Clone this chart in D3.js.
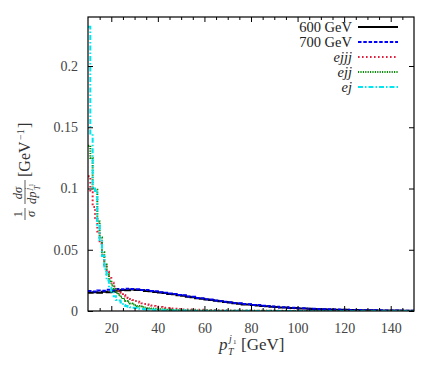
<!DOCTYPE html>
<html lang="en">
<head>
<meta charset="UTF-8">
<title>pT j1</title>
<script src="https://cdnjs.cloudflare.com/ajax/libs/d3/7.8.4/d3.min.js"></script>
<style>
  body { margin: 0; background: #fff; }
  text { font-family: "Liberation Serif", "DejaVu Serif", serif; }
</style>
</head>
<body>
<div class="visHolder"></div>
<script>
// bin edges (GeV)
const sigStart = 10, sigWidth = 2;
const bkgFineStart = 10, bkgFineWidth = 1;
const bkgCoarseStart = 50, bkgCoarseWidth = 5;

// 600 GeV, 2 GeV bins from 10
const sig600 = [
  0.0148, 0.0153, 0.0150, 0.0158, 0.0153, 0.0157, 0.0166, 0.0172, 0.0170, 0.0176,
  0.0171, 0.0172, 0.0164, 0.0161, 0.0155, 0.0151, 0.0147, 0.0139, 0.0137, 0.0129,
  0.0125, 0.0116, 0.0113, 0.0105, 0.0101, 0.0094, 0.0090, 0.0083, 0.0079, 0.0073,
  0.0069, 0.0063, 0.0060, 0.0054, 0.0053, 0.0048, 0.0045, 0.0040, 0.0039, 0.0034,
  0.0033, 0.0029, 0.0028, 0.0025, 0.0024, 0.0021, 0.0020, 0.0018, 0.0017, 0.0015,
  0.0014, 0.0013, 0.0012, 0.0011, 0.0010, 0.0010, 0.0008, 0.0008, 0.0007, 0.0007,
  0.0006, 0.0006, 0.0005, 0.0005, 0.0004, 0.0004, 0.0004, 0.0003, 0.0003, 0.0003
];
// 700 GeV, 2 GeV bins from 10
const sig700 = [
  0.0163, 0.0160, 0.0168, 0.0166, 0.0173, 0.0170, 0.0179, 0.0177, 0.0182, 0.0179,
  0.0178, 0.0172, 0.0171, 0.0164, 0.0161, 0.0154, 0.0150, 0.0143, 0.0139, 0.0131,
  0.0128, 0.0119, 0.0116, 0.0107, 0.0104, 0.0096, 0.0093, 0.0085, 0.0082, 0.0075,
  0.0072, 0.0065, 0.0063, 0.0057, 0.0055, 0.0049, 0.0048, 0.0042, 0.0041, 0.0036,
  0.0035, 0.0031, 0.0030, 0.0026, 0.0026, 0.0022, 0.0022, 0.0019, 0.0018, 0.0016,
  0.0015, 0.0014, 0.0013, 0.0012, 0.0011, 0.0010, 0.0009, 0.0009, 0.0008, 0.0007,
  0.0007, 0.0006, 0.0006, 0.0005, 0.0005, 0.0004, 0.0004, 0.0004, 0.0003, 0.0003
];

// backgrounds: 1 GeV bins 10-50, then 5 GeV bins 50-150
const ejjjFine = [
  0.110, 0.097, 0.085, 0.075, 0.065, 0.055, 0.046, 0.038, 0.032, 0.027,
  0.023, 0.020, 0.018, 0.016, 0.0145, 0.013, 0.0118, 0.0107, 0.0097, 0.0089,
  0.0081, 0.0075, 0.0069, 0.0063, 0.0058, 0.0053, 0.0049, 0.0045, 0.0041, 0.0038,
  0.0035, 0.0032, 0.0030, 0.0027, 0.0025, 0.0023, 0.0021, 0.0019, 0.0018, 0.0016
];
const ejjjCoarse = [
  0.0013, 0.0010, 0.0008, 0.0006, 0.0005, 0.0004, 0.0003, 0.0003, 0.0002, 0.0002,
  0.0002, 0.0001, 0.0001, 0.0001, 0.0001, 0.0001, 0.0001, 0.0001, 0.0001, 0.0001
];
const ejjFine = [
  0.135, 0.125, 0.100, 0.099, 0.073, 0.060, 0.048, 0.038, 0.030, 0.025,
  0.021, 0.018, 0.015, 0.013, 0.011, 0.0095, 0.0082, 0.0071, 0.0062, 0.0054,
  0.0047, 0.0041, 0.0036, 0.0032, 0.0028, 0.0025, 0.0022, 0.0020, 0.0018, 0.0016,
  0.0014, 0.0013, 0.0012, 0.0011, 0.0010, 0.0009, 0.0008, 0.0008, 0.0007, 0.0007
];
const ejjCoarse = [
  0.0006, 0.0005, 0.0004, 0.0003, 0.0003, 0.0002, 0.0002, 0.0002, 0.0001, 0.0001,
  0.0001, 0.0001, 0.0001, 0.0001, 0.0001, 0.0001, 0.0001, 0.0001, 0.0001, 0.0001
];
const ejFine = [
  0.232, 0.145, 0.100, 0.098, 0.070, 0.058, 0.045, 0.034, 0.025, 0.019,
  0.016, 0.012, 0.009, 0.0085, 0.007, 0.005, 0.004, 0.0035, 0.003, 0.0027,
  0.0024, 0.0021, 0.0019, 0.0017, 0.0015, 0.0013, 0.0012, 0.0011, 0.0010, 0.0009,
  0.0008, 0.0008, 0.0007, 0.0007, 0.0006, 0.0006, 0.0005, 0.0005, 0.0005, 0.0004
];
const ejCoarse = [
  0.0004, 0.0003, 0.0003, 0.0002, 0.0002, 0.0002, 0.0001, 0.0001, 0.0001, 0.0001,
  0.0001, 0.0001, 0.0001, 0.0001, 0.0001, 0.0001, 0.0001, 0.0001, 0.0001, 0.0001
];

const legendLabels = ["600 GeV", "700 GeV", "ejjj", "ejj", "ej"];
const xTicks = [20, 40, 60, 80, 100, 120, 140];
const yTicks = [0, 0.05, 0.1, 0.15, 0.2];

const w = 440, h = 367;
const padL = 88, padR = 414, padT = 17, padB = 311;

const xScale = d3.scaleLinear().domain([10, 150]).range([padL, padR]);
const yScale = d3.scaleLinear().domain([0, 0.24]).range([padB, padT]);

const svg = d3.select(".visHolder").append("svg")
  .attr("width", w).attr("height", h);

svg.append("defs").append("clipPath").attr("id", "clip")
  .append("rect").attr("x", padL).attr("y", padT)
  .attr("width", padR - padL).attr("height", padB - padT);

// turn bins into step points
function steps(start, width, vals) {
  const pts = vals.map((v, i) => [start + i * width, v]);
  pts.push([start + vals.length * width, vals[vals.length - 1]]);
  return pts;
}
function bkg(fine, coarse) {
  const a = steps(bkgFineStart, bkgFineWidth, fine);
  a.pop();
  return a.concat(steps(bkgCoarseStart, bkgCoarseWidth, coarse));
}

const series = [
  { pts: steps(sigStart, sigWidth, sig600), color: "#000000", dash: null },
  { pts: steps(sigStart, sigWidth, sig700), color: "#0000ff", dash: "3.5,1.8" },
  { pts: bkg(ejjjFine, ejjjCoarse), color: "#e0203c", dash: "1.6,2.4" },
  { pts: bkg(ejjFine, ejjCoarse), color: "#0a8a0a", dash: "1.2,1.2" },
  { pts: bkg(ejFine, ejCoarse), color: "#00e5f0", dash: "5,2,1.5,2" }
];

const line = d3.line()
  .x(d => xScale(d[0]))
  .y(d => yScale(d[1]))
  .curve(d3.curveStepAfter);

const plot = svg.append("g").attr("clip-path", "url(#clip)");
series.forEach(s => {
  plot.append("path")
    .attr("d", line(s.pts))
    .attr("fill", "none")
    .attr("stroke", s.color)
    .attr("stroke-width", 2)
    .attr("stroke-dasharray", s.dash);
});

// axes: ticks inside on all four sides
const minorX = d3.range(15, 150, 5).filter(v => v % 20 !== 0);
const fmt = d3.format("~g");

svg.append("g").attr("transform", `translate(0,${padB})`)
  .call(d3.axisBottom(xScale).tickValues(xTicks).tickSizeInner(-5).tickSizeOuter(0).tickPadding(12));
svg.append("g").attr("transform", `translate(0,${padB})`)
  .call(d3.axisBottom(xScale).tickValues(minorX).tickSizeInner(-3).tickSizeOuter(0).tickFormat(""));
svg.append("g").attr("transform", `translate(0,${padT})`)
  .call(d3.axisTop(xScale).tickValues(xTicks).tickSizeInner(-5).tickSizeOuter(0).tickFormat(""));
svg.append("g").attr("transform", `translate(0,${padT})`)
  .call(d3.axisTop(xScale).tickValues(minorX).tickSizeInner(-3).tickSizeOuter(0).tickFormat(""));
svg.append("g").attr("transform", `translate(${padL},0)`)
  .call(d3.axisLeft(yScale).tickValues(yTicks).tickFormat(fmt).tickSizeInner(-5).tickSizeOuter(0).tickPadding(10));
svg.append("g").attr("transform", `translate(${padR},0)`)
  .call(d3.axisRight(yScale).tickValues(yTicks).tickSizeInner(-5).tickSizeOuter(0).tickFormat(""));

svg.selectAll(".domain").remove();
svg.append("rect").attr("x", padL).attr("y", padT)
  .attr("width", padR - padL).attr("height", padB - padT)
  .attr("fill", "none").attr("stroke", "#000").attr("stroke-width", 1.2);

svg.selectAll(".tick line").attr("stroke", "#000");
svg.selectAll(".tick text")
  .attr("font-family", "Liberation Serif, serif")
  .attr("font-size", 14)
  .attr("fill", "#444");

// legend
const legend = svg.append("g");
legendLabels.forEach((lab, i) => {
  const y = 27 + i * 15;
  const t = legend.append("text")
    .attr("x", 352).attr("y", y + 4.5)
    .attr("text-anchor", "end")
    .attr("font-size", 14.5)
    .attr("fill", "#222")
    .text(lab);
  if (i >= 2) t.attr("font-style", "italic");
  legend.append("line")
    .attr("x1", 358).attr("x2", 398)
    .attr("y1", y).attr("y2", y)
    .attr("stroke", series[i].color)
    .attr("stroke-width", 2)
    .attr("stroke-dasharray", series[i].dash);
});

// x label: p_T^{j1} [GeV]
const xl = svg.append("g").attr("fill", "#333");
xl.append("text").attr("x", 219).attr("y", 350).attr("font-size", 17).attr("font-style", "italic").text("p");
xl.append("text").attr("x", 228).attr("y", 355).attr("font-size", 10).attr("font-style", "italic").text("T");
xl.append("text").attr("x", 229).attr("y", 342).attr("font-size", 10).attr("font-style", "italic").text("j");
xl.append("text").attr("x", 233).attr("y", 344).attr("font-size", 7).text("1");
xl.append("text").attr("x", 241).attr("y", 350).attr("font-size", 17).text("[GeV]");

// y label: 1/sigma dsigma/dp_T^{j1} [GeV^-1]
const yl = svg.append("g").attr("transform", "translate(25,164) rotate(-90)").attr("fill", "#333");
yl.append("text").attr("x", -50).attr("y", -3).attr("font-size", 12.5).attr("text-anchor", "middle").text("1");
yl.append("line").attr("x1", -56).attr("x2", -44).attr("y1", 0).attr("y2", 0).attr("stroke", "#333").attr("stroke-width", 0.8);
yl.append("text").attr("x", -50).attr("y", 10).attr("font-size", 12.5).attr("font-style", "italic").attr("text-anchor", "middle").text("σ");
yl.append("text").attr("x", -29).attr("y", -3).attr("font-size", 12.5).attr("font-style", "italic").attr("text-anchor", "middle").text("dσ");
yl.append("line").attr("x1", -40).attr("x2", -16).attr("y1", 0).attr("y2", 0).attr("stroke", "#333").attr("stroke-width", 0.8);
yl.append("text").attr("x", -40).attr("y", 11).attr("font-size", 12.5).attr("font-style", "italic").text("dp");
yl.append("text").attr("x", -26).attr("y", 15).attr("font-size", 8).attr("font-style", "italic").text("T");
yl.append("text").attr("x", -26).attr("y", 6).attr("font-size", 8).attr("font-style", "italic").text("j");
yl.append("text").attr("x", -22.5).attr("y", 8).attr("font-size", 5.5).text("1");
yl.append("text").attr("x", -13).attr("y", 5).attr("font-size", 16).text("[GeV");
yl.append("text").attr("x", 24).attr("y", -1).attr("font-size", 10).text("−1");
yl.append("text").attr("x", 36).attr("y", 5).attr("font-size", 16).text("]");
</script>
</body>
</html>
